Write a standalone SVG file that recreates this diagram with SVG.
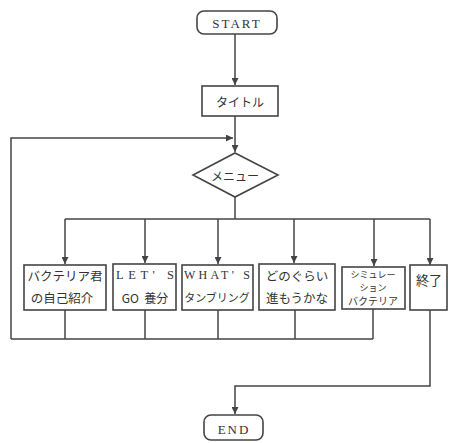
<svg xmlns="http://www.w3.org/2000/svg" width="449" height="443" viewBox="0 0 449 443">
<style>
.box{fill:#fff;stroke:#444;stroke-width:1.6}
.ln{fill:none;stroke:#444;stroke-width:1.5}
.jp{font-family:"Noto Sans CJK JP","Noto Sans",sans-serif;fill:#333;text-anchor:middle;dominant-baseline:central}
.sr{font-family:"Liberation Serif",serif;fill:#333;text-anchor:middle;dominant-baseline:central}
</style>
<defs>
<marker id="ah" viewBox="0 0 10 10" refX="10" refY="5" markerWidth="7" markerHeight="7" markerUnits="userSpaceOnUse" orient="auto">
<path d="M0,0 L10,5 L0,10 z" fill="#444"/>
</marker>
</defs>
<rect width="449" height="443" fill="#fff"/>
<g id="connectors">
<path class="ln" d="M235,34 V85" marker-end="url(#ah)"/>
<path class="ln" d="M235,116 V152" marker-end="url(#ah)"/>
<path class="ln" d="M11,339 V138 H233" marker-end="url(#ah)"/>
<path class="ln" d="M235,197 V219"/>
<path class="ln" d="M65,219 H430"/>
<path class="ln" d="M65,219 V264" marker-end="url(#ah)"/>
<path class="ln" d="M145,219 V263" marker-end="url(#ah)"/>
<path class="ln" d="M218,219 V264" marker-end="url(#ah)"/>
<path class="ln" d="M294,219 V263" marker-end="url(#ah)"/>
<path class="ln" d="M374,219 V266" marker-end="url(#ah)"/>
<path class="ln" d="M430,219 V265" marker-end="url(#ah)"/>
<path class="ln" d="M65,310 V339 M145,310 V339 M218,310 V339 M295,310 V339 M373,309 V339 M11,339 H373"/>
<path class="ln" d="M430,310 V386 H235 V414" marker-end="url(#ah)"/>
</g>
<g id="start">
<rect class="box" x="197" y="11" width="80" height="23" rx="7"/>
<text class="sr" x="237" y="23" font-size="13" letter-spacing="2">START</text>
</g>
<g id="title">
<rect class="box" x="202" y="86" width="76" height="30"/>
<text class="jp" x="240" y="101" font-size="12">タイトル</text>
</g>
<g id="menu">
<path class="box" d="M235,153 L278,175 L235,197 L193,175 Z"/>
<text class="jp" x="235" y="175" font-size="12">メニュー</text>
</g>
<g id="b1">
<rect class="box" x="24" y="265" width="82" height="45"/>
<text class="jp" x="65" y="275" font-size="12.5">バクテリア君</text>
<text class="jp" x="62" y="297" font-size="12.5">の自己紹介</text>
</g>
<g id="b2">
<rect class="box" x="113" y="264" width="63" height="46"/>
<text class="sr" x="145" y="275" font-size="12.5" textLength="58" lengthAdjust="spacing">LET' S</text>
<text class="jp" x="145" y="297" font-size="12" xml:space="preserve">GO  養分</text>
</g>
<g id="b3">
<rect class="box" x="182" y="265" width="71" height="45"/>
<text class="sr" x="217" y="275" font-size="12" textLength="66" lengthAdjust="spacing">WHAT' S</text>
<text class="jp" x="217" y="297" font-size="11">タンブリング</text>
</g>
<g id="b4">
<rect class="box" x="259" y="264" width="76" height="46"/>
<text class="jp" x="297" y="275" font-size="12.5">どのぐらい</text>
<text class="jp" x="297" y="297" font-size="12.5">進もうかな</text>
</g>
<g id="b5">
<rect class="box" x="342" y="267" width="63" height="42"/>
<text class="jp" x="373" y="274" font-size="9">シミュレー</text>
<text class="jp" x="373" y="287" font-size="9">ション</text>
<text class="jp" x="373" y="300" font-size="10">バクテリア</text>
</g>
<g id="b6">
<rect class="box" x="410" y="265" width="37" height="45"/>
<text class="jp" x="429" y="279" font-size="13">終了</text>
</g>
<g id="end">
<rect class="box" x="204" y="415" width="59" height="25" rx="7"/>
<text class="sr" x="234" y="429" font-size="13" letter-spacing="2">END</text>
</g>
</svg>
